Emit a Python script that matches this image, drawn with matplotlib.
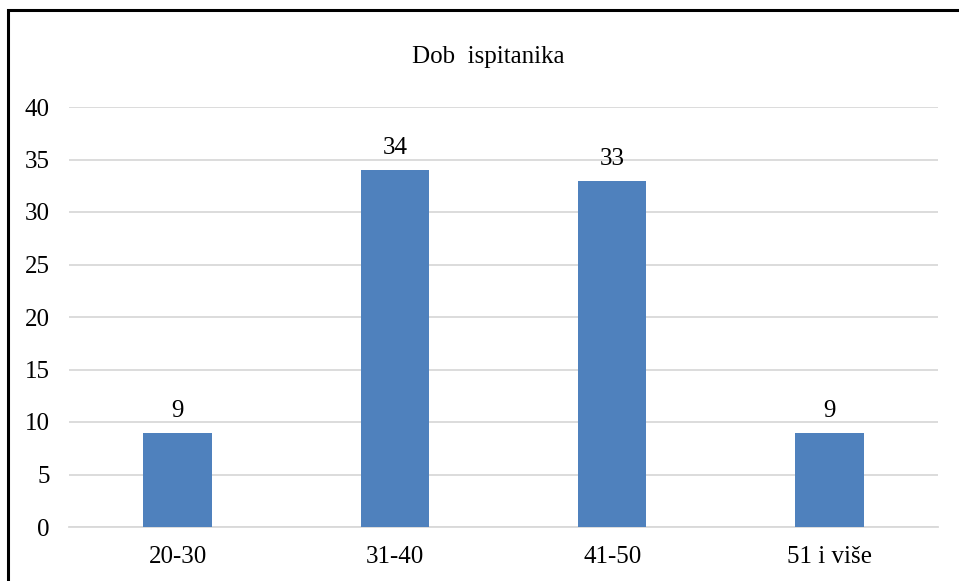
import matplotlib.pyplot as plt
from matplotlib.patches import Rectangle

categories = ["20-30", "31-40", "41-50", "51 i više"]
values = [9, 34, 33, 9]
yticks = [0, 5, 10, 15, 20, 25, 30, 35, 40]

plt.rcParams['font.family'] = ['Liberation Serif', 'DejaVu Serif']

W, H = 959, 581
fig = plt.figure(figsize=(W / 100, H / 100), dpi=100)

# outer frame (right and bottom edges fall outside the picture)
fig.patches.append(Rectangle((8 / W, -0.05), 1.1, 1 - 9.5 / H + 0.05,
                             transform=fig.transFigure, fill=False,
                             edgecolor="black", linewidth=2.2))

ax = fig.add_axes([69 / W, 1 - 527 / H, (938 - 69) / W, (527 - 107) / H])
x = range(len(categories))
bars = ax.bar(x, values, width=0.315, color="#4F81BD", zorder=3)
for b, v in zip(bars, values):
    ax.text(b.get_x() + b.get_width() / 2, v + 1.0, str(v),
            ha="center", va="bottom", fontsize=18)

ax.set_xlim(-0.5, len(categories) - 0.5)
ax.set_ylim(0, 40)
ax.set_yticks(yticks)
ax.set_xticks(list(x))
ax.set_xticklabels(categories)
ax.tick_params(axis="both", length=0, labelsize=18)
ax.tick_params(axis="y", pad=14)
ax.tick_params(axis="x", pad=14)
ax.grid(axis="y", color="#D9D9D9", linewidth=1.3, zorder=0)
for s in ["top", "right", "left"]:
    ax.spines[s].set_visible(False)
ax.spines["bottom"].set_color("#D9D9D9")
ax.spines["bottom"].set_linewidth(1.3)

fig.text(488 / W, 1 - 57 / H, "Dob  ispitanika", ha="center", va="center",
         fontsize=18)

fig.savefig("out.png", dpi=100)
